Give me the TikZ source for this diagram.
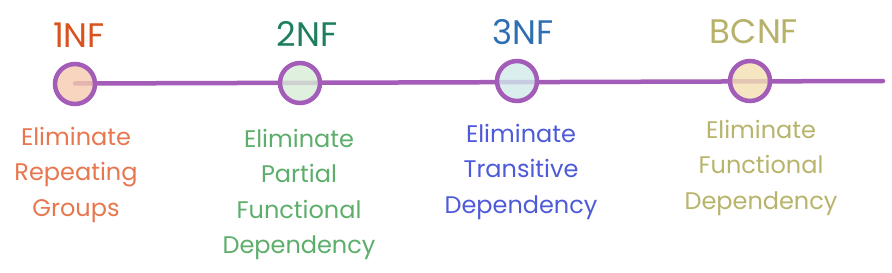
\documentclass[tikz,border=0pt]{standalone}
\usepackage{fontspec}
\setmainfont{Poppins}
\definecolor{purp}{HTML}{A35CB8}
\definecolor{tA}{HTML}{D9531E}
\definecolor{dA}{HTML}{E8774F}
\definecolor{tB}{HTML}{1D7F5C}
\definecolor{dB}{HTML}{5DAE6B}
\definecolor{tC}{HTML}{2E6FB3}
\definecolor{dC}{HTML}{4E5BD8}
\definecolor{tD}{HTML}{B7B26A}
\definecolor{dD}{HTML}{B8B46C}
\definecolor{fA}{HTML}{F5CBAE}
\definecolor{fB}{HTML}{D9EDD7}
\definecolor{fC}{HTML}{D1EAEA}
\definecolor{fD}{HTML}{F3E0B2}
\tikzset{
  dot/.style={circle, draw=purp, line width=4.5pt, minimum size=40pt, inner sep=0pt, fill opacity=0.8, draw opacity=1},
  title/.style={anchor=base, inner sep=0pt, font=\fontsize{34}{36}\selectfont},
  desc/.style={anchor=north, inner sep=0pt, align=center, font=\fontsize{24}{35.5}\selectfont},
  tline/.style={draw=purp, line width=4.5pt, line cap=round}
}
\begin{document}
\begin{tikzpicture}[x=1pt,y=-1pt]
\fill[white] (0,0) rectangle (892,273);
\useasboundingbox (0,0) rectangle (892,273);
\coordinate (end) at (883,81);
\coordinate (start) at (75,83.5);
\draw[tline] (start) -- (end);
\node[dot, fill=fA] (c1) at (75,84) {};
\node[dot, fill=fB] (c2) at (300,83) {};
\node[dot, fill=fC] (c3) at (517,81) {};
\node[dot, fill=fD] (c4) at (750,81) {};
\node[title, text=tA] (t1) at (79,47) {1NF};
\node[title, text=tB] (t2) at (307,46) {2NF};
\node[title, text=tC] (t3) at (523,44) {3NF};
\node[title, text=tD] (t4) at (754,43) {BCNF};
\node[desc, text=dA] (d1) at (76,127) {Eliminate\\Repeating\\Groups};
\node[desc, text=dB] (d2) at (299,129) {Eliminate\\Partial\\Functional\\Dependency};
\node[desc, text=dC] (d3) at (521,124) {Eliminate\\Transitive\\Dependency};
\node[desc, text=dD] (d4) at (761,120) {Eliminate\\Functional\\Dependency};
\end{tikzpicture}
\end{document}
